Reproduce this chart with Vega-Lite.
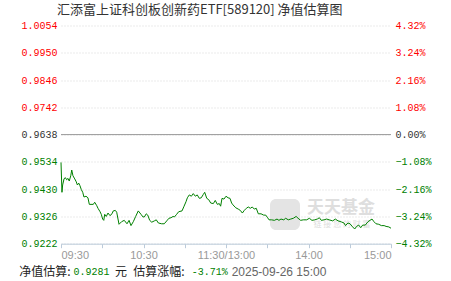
{
  "$schema": "https://vega.github.io/schema/vega-lite/v6.json",
  "width": 330,
  "height": 218.2,
  "autosize": {"type": "none"},
  "padding": {"left": 61, "top": 25.5, "right": 60, "bottom": 37.3},
  "background": "#ffffff",
  "title": {
    "text": "汇添富上证科创板创新药ETF[589120] 净值估算图",
    "anchor": "start",
    "frame": "group",
    "dx": -4,
    "fontSize": 13,
    "fontWeight": "normal",
    "font": "Noto Sans CJK SC",
    "color": "#333333",
    "offset": 4
  },
  "config": {"view": {"stroke": null}},
  "data": {"values": [{}]},
  "datasets": {
    "nav": [
      {"t":0,"v":0.9532},{"t":0.7,"v":0.9418},{"t":1.2,"v":0.9446},{"t":2.2,"v":0.9469},{"t":3.1,"v":0.9474},{"t":4.1,"v":0.9466},{"t":5.1,"v":0.9471},{"t":6.0,"v":0.9461},{"t":7.1,"v":0.9481},{"t":7.8,"v":0.9503},{"t":8.7,"v":0.9481},{"t":10.0,"v":0.9469},{"t":11.1,"v":0.9458},{"t":11.9,"v":0.9446},{"t":12.9,"v":0.9453},{"t":13.8,"v":0.9443},{"t":14.8,"v":0.9428},{"t":15.8,"v":0.9418},{"t":16.7,"v":0.9400},{"t":18.2,"v":0.9403},{"t":19.6,"v":0.9397},{"t":20.6,"v":0.9372},{"t":23.5,"v":0.9372},{"t":24.5,"v":0.9380},{"t":26.0,"v":0.9367},{"t":26.9,"v":0.9357},{"t":28.4,"v":0.9344},{"t":29.3,"v":0.9334},{"t":30.3,"v":0.9316},{"t":31.1,"v":0.9311},{"t":31.8,"v":0.9334},{"t":32.9,"v":0.9326},{"t":34.2,"v":0.9339},{"t":35.6,"v":0.9329},{"t":37.1,"v":0.9336},{"t":38.0,"v":0.9347},{"t":39.5,"v":0.9349},{"t":40.5,"v":0.9342},{"t":42.2,"v":0.9296},{"t":44.1,"v":0.9306},{"t":46.0,"v":0.9311},{"t":48.0,"v":0.9298},{"t":49.5,"v":0.9311},{"t":50.9,"v":0.9291},{"t":52.6,"v":0.9306},{"t":54.3,"v":0.9326},{"t":56.2,"v":0.9347},{"t":58.2,"v":0.9334},{"t":59.6,"v":0.9324},{"t":60.6,"v":0.9324},{"t":62.0,"v":0.9336},{"t":63.1,"v":0.9331},{"t":64.5,"v":0.9311},{"t":66.0,"v":0.9304},{"t":67.9,"v":0.9309},{"t":69.3,"v":0.9313},{"t":70.8,"v":0.9301},{"t":73.2,"v":0.9298},{"t":75.1,"v":0.9298},{"t":76.9,"v":0.9309},{"t":78.5,"v":0.9319},{"t":80.0,"v":0.9321},{"t":81.5,"v":0.9326},{"t":82.5,"v":0.9324},{"t":84.1,"v":0.9334},{"t":85.6,"v":0.9344},{"t":88.0,"v":0.9347},{"t":89.5,"v":0.9365},{"t":90.9,"v":0.9382},{"t":91.9,"v":0.9397},{"t":93.3,"v":0.9408},{"t":94.8,"v":0.9403},{"t":96.2,"v":0.9413},{"t":97.7,"v":0.9403},{"t":99.1,"v":0.9408},{"t":100.6,"v":0.9395},{"t":102.0,"v":0.9397},{"t":103.5,"v":0.9410},{"t":104.5,"v":0.9418},{"t":106.0,"v":0.9395},{"t":107.4,"v":0.9390},{"t":108.9,"v":0.9377},{"t":110.8,"v":0.9375},{"t":112.2,"v":0.9387},{"t":113.7,"v":0.9372},{"t":115.1,"v":0.9375},{"t":116.1,"v":0.9365},{"t":117.1,"v":0.9395},{"t":118.5,"v":0.9392},{"t":120.0,"v":0.9403},{"t":121.5,"v":0.9397},{"t":122.9,"v":0.9395},{"t":124.1,"v":0.9377},{"t":125.1,"v":0.9370},{"t":127.1,"v":0.9359},{"t":128.9,"v":0.9354},{"t":130.4,"v":0.9349},{"t":131.9,"v":0.9339},{"t":133.3,"v":0.9349},{"t":134.8,"v":0.9357},{"t":136.2,"v":0.9362},{"t":137.7,"v":0.9357},{"t":139.1,"v":0.9362},{"t":140.6,"v":0.9354},{"t":142.0,"v":0.9357},{"t":143.5,"v":0.9336},{"t":145.5,"v":0.9336},{"t":147.4,"v":0.9331},{"t":148.9,"v":0.9331},{"t":150.3,"v":0.9321},{"t":151.3,"v":0.9313},{"t":153.2,"v":0.9313},{"t":155.2,"v":0.9311},{"t":157.1,"v":0.9316},{"t":158.5,"v":0.9311},{"t":160.0,"v":0.9316},{"t":162.0,"v":0.9313},{"t":163.4,"v":0.9319},{"t":165.3,"v":0.9313},{"t":167.1,"v":0.9316},{"t":169.0,"v":0.9319},{"t":171.0,"v":0.9326},{"t":172.4,"v":0.9319},{"t":174.3,"v":0.9311},{"t":176.2,"v":0.9313},{"t":178.7,"v":0.9313},{"t":180.6,"v":0.9319},{"t":182.5,"v":0.9311},{"t":184.5,"v":0.9313},{"t":186.4,"v":0.9316},{"t":187.9,"v":0.9321},{"t":189.3,"v":0.9311},{"t":191.3,"v":0.9313},{"t":193.2,"v":0.9316},{"t":195.1,"v":0.9313},{"t":197.6,"v":0.9309},{"t":199.5,"v":0.9316},{"t":201.5,"v":0.9309},{"t":203.9,"v":0.9305},{"t":205.8,"v":0.9301},{"t":206.9,"v":0.9291},{"t":208.7,"v":0.9301},{"t":210.2,"v":0.9298},{"t":212.1,"v":0.9286},{"t":213.6,"v":0.9278},{"t":215.0,"v":0.9288},{"t":216.5,"v":0.9293},{"t":218.0,"v":0.9283},{"t":219.4,"v":0.9293},{"t":221.3,"v":0.9293},{"t":223.3,"v":0.9306},{"t":224.7,"v":0.9311},{"t":226.2,"v":0.9316},{"t":227.6,"v":0.9306},{"t":229.1,"v":0.9298},{"t":231.1,"v":0.9296},{"t":233.0,"v":0.9291},{"t":235.0,"v":0.9291},{"t":236.4,"v":0.9288},{"t":238.4,"v":0.9286},{"t":240,"v":0.9281}
    ]
  },
  "layer": [
    {
      "data": {"name": "nav"},
      "mark": {"type": "line", "opacity": 0},
      "encoding": {
        "x": {
          "field": "t", "type": "quantitative",
          "scale": {"domain": [0, 240], "nice": false, "zero": false},
          "axis": {
            "values": [0, 30, 60, 90, 120, 150, 180, 210, 240],
            "labelExpr": "datum.value == 0 ? '09:30' : datum.value == 60 ? '10:30' : datum.value == 120 ? '11:30/13:00' : datum.value == 180 ? '14:00' : datum.value == 240 ? '15:00' : ''",
            "labelFlush": true,
            "labelOverlap": false,
            "grid": false,
            "domainColor": "#bccbda",
            "tickColor": "#bccbda",
            "tickSize": 4,
            "labelPadding": 2,
            "labelColor": "#999999",
            "labelFont": "Liberation Sans",
            "labelFontSize": 11,
            "title": null
          }
        },
        "y": {
          "field": "v", "type": "quantitative",
          "scale": {"domain": [0.9222, 1.0054], "nice": false, "zero": false},
          "axis": {
            "values": [0.9222, 0.9326, 0.9430, 0.9534, 0.9638, 0.9742, 0.9846, 0.9950, 1.0054],
            "format": ".4f",
            "domain": false,
            "ticks": false,
            "labelPadding": 4,
            "labelFont": "Liberation Mono",
            "labelFontSize": 10,
            "grid": true,
            "gridColor": "#d6d6d6",
            "gridDash": [1, 2],
            "title": null,
            "labelColor": {"condition": [{"test": "datum.value > 0.96385", "value": "#ff0000"}, {"test": "datum.value < 0.96375", "value": "#008000"}], "value": "#333333"}
          }
        }
      }
    },
    {
      "data": {"name": "nav"},
      "mark": {"type": "line", "opacity": 0},
      "encoding": {
        "x": {"field": "t", "type": "quantitative", "axis": null},
        "y": {
          "field": "v", "type": "quantitative",
          "axis": {
            "orient": "right",
            "values": [0.9222, 0.9326, 0.9430, 0.9534, 0.9638, 0.9742, 0.9846, 0.9950, 1.0054],
            "labelExpr": "format((datum.value / 0.9638 - 1) * 100, '.2f') + '%'",
            "domain": false,
            "ticks": false,
            "grid": false,
            "labelPadding": 4,
            "labelFont": "Liberation Mono",
            "labelFontSize": 10,
            "title": null,
            "labelColor": {"condition": [{"test": "datum.value > 0.96385", "value": "#ff0000"}, {"test": "datum.value < 0.96375", "value": "#008000"}], "value": "#333333"}
          }
        }
      }
    },
    {
      "mark": {"type": "rect", "color": "#e4e4e4", "cornerRadius": 6},
      "encoding": {
        "x": {"datum": 152.0, "type": "quantitative", "axis": null},
        "x2": {"datum": 173.8},
        "y": {"datum": 0.9392, "type": "quantitative", "axis": null},
        "y2": {"datum": 0.9274}
      }
    },
    {
      "mark": {"type": "text", "text": "天天基金", "font": "Noto Sans CJK SC", "fontSize": 17, "fontWeight": "bold", "color": "#dedede", "align": "center", "baseline": "middle"},
      "encoding": {
        "x": {"datum": 203.6, "type": "quantitative", "axis": null},
        "y": {"datum": 0.9358, "type": "quantitative", "axis": null}
      }
    },
    {
      "mark": {"type": "text", "text": "链 接 您 的 财 富", "font": "Noto Sans CJK SC", "fontSize": 8, "color": "#dedede", "align": "center", "baseline": "middle"},
      "encoding": {
        "x": {"datum": 204.4, "type": "quantitative", "axis": null},
        "y": {"datum": 0.9294, "type": "quantitative", "axis": null}
      }
    },
    {
      "mark": {"type": "rule", "color": "#999999", "strokeWidth": 1},
      "encoding": {
        "y": {"datum": 0.9638, "type": "quantitative", "axis": null}
      }
    },
    {
      "data": {"name": "nav"},
      "mark": {"type": "line", "color": "#008000", "strokeWidth": 1, "interpolate": "linear"},
      "encoding": {
        "x": {"field": "t", "type": "quantitative", "axis": null},
        "y": {"field": "v", "type": "quantitative", "axis": null}
      }
    },
    {
      "mark": {"type": "text", "text": "净值估算:", "font": "Noto Sans CJK SC", "fontSize": 12, "color": "#222222", "align": "left", "baseline": "middle"},
      "encoding": {
        "x": {"datum": -30.3, "type": "quantitative", "axis": null},
        "y": {"datum": 0.9115, "type": "quantitative", "axis": null}
      }
    },
    {
      "mark": {"type": "text", "text": "0.9281", "font": "Liberation Mono", "fontSize": 10, "color": "#008000", "align": "left", "baseline": "middle"},
      "encoding": {
        "x": {"datum": 9.0, "type": "quantitative", "axis": null},
        "y": {"datum": 0.9115, "type": "quantitative", "axis": null}
      }
    },
    {
      "mark": {"type": "text", "text": "元", "font": "Noto Sans CJK SC", "fontSize": 12, "color": "#222222", "align": "left", "baseline": "middle"},
      "encoding": {
        "x": {"datum": 39.3, "type": "quantitative", "axis": null},
        "y": {"datum": 0.9115, "type": "quantitative", "axis": null}
      }
    },
    {
      "mark": {"type": "text", "text": "估算涨幅:", "font": "Noto Sans CJK SC", "fontSize": 12, "color": "#222222", "align": "left", "baseline": "middle"},
      "encoding": {
        "x": {"datum": 52.6, "type": "quantitative", "axis": null},
        "y": {"datum": 0.9115, "type": "quantitative", "axis": null}
      }
    },
    {
      "mark": {"type": "text", "text": "-3.71%", "font": "Liberation Mono", "fontSize": 10, "color": "#008000", "align": "left", "baseline": "middle"},
      "encoding": {
        "x": {"datum": 95.0, "type": "quantitative", "axis": null},
        "y": {"datum": 0.9115, "type": "quantitative", "axis": null}
      }
    },
    {
      "mark": {"type": "text", "text": "2025-09-26 15:00", "font": "Liberation Sans", "fontSize": 12, "color": "#666666", "align": "left", "baseline": "middle"},
      "encoding": {
        "x": {"datum": 124.1, "type": "quantitative", "axis": null},
        "y": {"datum": 0.9115, "type": "quantitative", "axis": null}
      }
    }
  ],
  "resolve": {"axis": {"x": "independent", "y": "independent"}}
}
